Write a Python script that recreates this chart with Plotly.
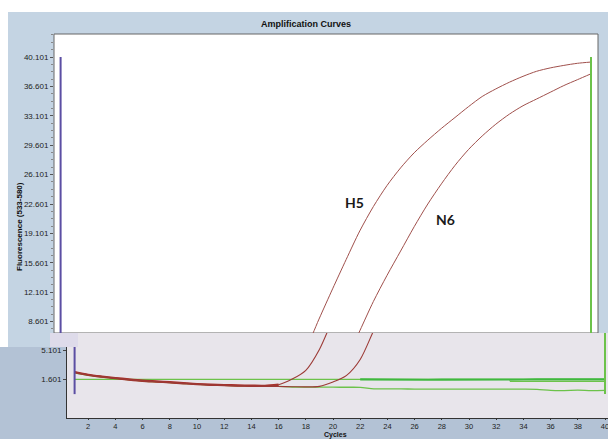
import plotly.graph_objects as go

W, H = 608, 439

# ---------------- data ----------------
cycles = list(range(1, 41))
h5 = [2.48, 2.16, 1.95, 1.77, 1.60, 1.45, 1.36, 1.27, 1.16, 1.05,
      0.98, 0.93, 0.88, 0.85, 0.84, 0.98, 1.65, 2.70, 5.20, 8.90,
      12.5, 16.0, 19.4, 22.3, 24.8, 26.9, 28.7, 30.2, 31.6, 32.9,
      34.2, 35.4, 36.3, 37.1, 37.8, 38.4, 38.8, 39.1, 39.35, 39.5]
n6 = [2.46, 2.15, 1.94, 1.76, 1.59, 1.44, 1.34, 1.25, 1.14, 1.03,
      0.95, 0.89, 0.84, 0.80, 0.78, 0.76, 0.74, 0.72, 0.78, 1.30,
      2.10, 4.00, 7.50, 11.0, 14.1, 17.0, 19.9, 22.6, 25.0, 27.2,
      29.1, 30.7, 32.1, 33.3, 34.3, 35.1, 35.9, 36.7, 37.4, 38.1]
ntc = [2.40, 2.10, 1.90, 1.72, 1.56, 1.42, 1.32, 1.23, 1.12, 1.02,
       0.95, 0.90, 0.85, 0.82, 0.80, 0.78, 0.70, 0.68, 0.68, 0.68,
       0.67, 0.66, 0.48, 0.47, 0.47, 0.46, 0.46, 0.46, 0.45, 0.45,
       0.46, 0.45, 0.44, 0.44, 0.42, 0.30, 0.28, 0.32, 0.27, 0.30]
thr_cycles = [1, 40]
thr_values = [1.62, 1.62]
neg2_cycles = list(range(22, 41))
neg2_values = [1.62, 1.60, 1.62, 1.58, 1.60, 1.57, 1.59, 1.58, 1.58, 1.60,
               1.62, 1.62, 1.60, 1.62, 1.62, 1.62, 1.62, 1.62, 1.62]
neg3_cycles = list(range(33, 41))
neg3_values = [1.37, 1.36, 1.37, 1.37, 1.36, 1.37, 1.37, 1.37]

top_ticks = [8.601, 12.101, 15.601, 19.101, 22.601, 26.101, 29.601, 33.101, 36.601, 40.101]
bottom_ticks = [1.601, 5.101]
x_ticks = list(range(2, 41, 2))
start_cycle, end_cycle = cycles[0], cycles[-1]
marker_top = 40.101
marker_bottom = -0.15
baseline_end = 16
labels = ["H5", "N6"]
label_pos = [(22.6, 22.8), (29.3, 20.8)]

# ---------------- geometry helpers (pixels -> paper) ----------------
def px(x):
    return x / W

def py(y):
    return 1 - y / H

# bottom panel scale
def bx(p):
    return (p - 61) / 13.6

def bv(p):
    return 1.601 - (p - 379.5) / 8.35

# top panel scale
def tx(p):
    return (p - 47) / 13.6

def tv(p):
    return 40.101 - (p - 57) / 8.4

RED = "#a0504c"
RED_B = "#9c3a36"
GREEN = "#6cc24a"
GREEN_B = "#3fb83f"
PURPLE = "#5b4ea3"
TICKFONT = dict(family="Liberation Sans, Arial", size=8, color="#222")
XTICKFONT = dict(family="Liberation Sans, Arial", size=7.5, color="#222")

fig = go.Figure()
SPL = dict(shape="spline", smoothing=0.8)

# ---- top panel traces ----
fig.add_trace(go.Scatter(x=cycles, y=h5, mode="lines", line=dict(color=RED, width=1, **SPL),
                         xaxis="x2", yaxis="y2", name="H5"))
fig.add_trace(go.Scatter(x=cycles, y=n6, mode="lines", line=dict(color=RED, width=1, **SPL),
                         xaxis="x2", yaxis="y2", name="N6"))
fig.add_trace(go.Scatter(x=[start_cycle, start_cycle], y=[marker_top, 0], mode="lines",
                         line=dict(color=PURPLE, width=2), xaxis="x2", yaxis="y2"))
fig.add_trace(go.Scatter(x=[end_cycle, end_cycle], y=[marker_top, 0], mode="lines",
                         line=dict(color=GREEN, width=2), xaxis="x2", yaxis="y2"))

# ---- bottom panel traces ----
fig.add_trace(go.Scatter(x=thr_cycles, y=thr_values, mode="lines",
                         line=dict(color=GREEN, width=1.3), xaxis="x", yaxis="y"))
fig.add_trace(go.Scatter(x=cycles, y=ntc, mode="lines",
                         line=dict(color=GREEN, width=1.3, **SPL), xaxis="x", yaxis="y"))
fig.add_trace(go.Scatter(x=neg2_cycles, y=neg2_values, mode="lines",
                         line=dict(color=GREEN_B, width=2.2), xaxis="x", yaxis="y"))
fig.add_trace(go.Scatter(x=neg3_cycles, y=neg3_values, mode="lines",
                         line=dict(color=GREEN, width=1.2), xaxis="x", yaxis="y"))
fig.add_trace(go.Scatter(x=cycles[:baseline_end], y=h5[:baseline_end], mode="lines",
                         line=dict(color="#a8302a", width=2.4, **SPL), xaxis="x", yaxis="y"))
fig.add_trace(go.Scatter(x=cycles, y=h5, mode="lines", line=dict(color=RED_B, width=1.1, **SPL),
                         xaxis="x", yaxis="y"))
fig.add_trace(go.Scatter(x=cycles, y=n6, mode="lines", line=dict(color=RED_B, width=1.1, **SPL),
                         xaxis="x", yaxis="y"))
fig.add_trace(go.Scatter(x=[start_cycle, start_cycle], y=[marker_bottom, 9], mode="lines",
                         line=dict(color=PURPLE, width=2), xaxis="x", yaxis="y"))
fig.add_trace(go.Scatter(x=[end_cycle, end_cycle], y=[marker_bottom, 9], mode="lines",
                         line=dict(color=GREEN, width=2), xaxis="x", yaxis="y"))

shapes = [
    dict(type="rect", xref="paper", yref="paper", x0=px(8), x1=px(608), y0=py(347), y1=py(12),
         fillcolor="#c4d4e3", line=dict(width=0), layer="below"),
    dict(type="rect", xref="paper", yref="paper", x0=px(0), x1=px(608), y0=py(439), y1=py(347),
         fillcolor="#b3c2d5", line=dict(width=0), layer="below"),
    dict(type="rect", xref="paper", yref="paper", x0=px(54), x1=px(598), y0=py(333), y1=py(34),
         fillcolor="white", line=dict(color="#666666", width=1), layer="below"),
    dict(type="rect", xref="paper", yref="paper", x0=px(58), x1=px(608), y0=py(347), y1=py(333),
         fillcolor="#e8e5eb", line=dict(width=0), layer="below"),
    dict(type="rect", xref="paper", yref="paper", x0=px(67), x1=px(608), y0=py(418), y1=py(333),
         fillcolor="#e8e5eb", line=dict(width=0), layer="below"),
    dict(type="rect", xref="paper", yref="paper", x0=px(50), x1=px(78), y0=py(347), y1=py(333),
         fillcolor="#dedbea", line=dict(width=0), layer="above"),
]

LABFONT = dict(family="Liberation Sans, Arial", size=8, color="#111")
annotations = [
    dict(text="<b>Amplification Curves</b>", x=px(306), y=py(24), xref="paper", yref="paper",
         xanchor="center", yanchor="middle",
         showarrow=False, font=dict(family="Liberation Sans, Arial", size=9, color="#111")),
    dict(text="<b>Fluorescence (533-580)</b>", x=px(19), y=py(227), xref="paper", yref="paper",
         xanchor="center", yanchor="middle",
         showarrow=False, textangle=-90, font=LABFONT),
    dict(text="<b>Cycles</b>", x=px(335), y=py(439.5), xref="paper", yref="paper",
         xanchor="center", yanchor="bottom", borderpad=0,
         showarrow=False, font=dict(family="Liberation Sans, Arial", size=7, color="#111")),
]
for lab, (cx, cy) in zip(labels, label_pos):
    annotations.append(dict(text="<b>" + lab + "</b>", x=cx, y=cy, xref="x2", yref="y2",
                            xanchor="center", yanchor="middle", showarrow=False,
                            font=dict(family="Lato, Open Sans, sans-serif", size=14, color="#1a1a1a")))

fig.update_layout(
    width=W, height=H, margin=dict(l=0, r=0, t=0, b=0),
    paper_bgcolor="white", plot_bgcolor="rgba(0,0,0,0)",
    showlegend=False,
    shapes=shapes, annotations=annotations,
    xaxis=dict(domain=[px(67), 1], range=[bx(67), bx(608)], anchor="y",
               tickmode="array", tickvals=x_ticks, ticktext=[str(v) for v in x_ticks],
               ticks="outside", ticklen=1, tickcolor="#333", tickfont=XTICKFONT,
               ticklabelstandoff=0, ticklabeloverflow="allow",
               showline=True, linecolor="#333", linewidth=1,
               showgrid=False, zeroline=False),
    yaxis=dict(domain=[py(418), py(333)], range=[bv(418), bv(333)], anchor="x",
               tickmode="array", tickvals=bottom_ticks, ticktext=["%.3f" % v for v in bottom_ticks],
               ticks="outside", ticklen=3, tickcolor="#444", tickfont=TICKFONT,
               showline=True, linecolor="#333", linewidth=1,
               showgrid=False, zeroline=False),
    xaxis2=dict(domain=[px(54), px(598)], range=[tx(54), tx(598)], anchor="y2",
                visible=False),
    yaxis2=dict(domain=[py(333), py(34)], range=[tv(333), tv(34)], anchor="x2",
                tickmode="array", tickvals=top_ticks, ticktext=["%.3f" % v for v in top_ticks],
                ticks="outside", ticklen=3, tickcolor="#555", tickfont=TICKFONT,
                minor=dict(ticks="outside", ticklen=2, tickcolor="#888", dtick=0.875, tick0=8.601),
                showline=False, showgrid=False, zeroline=False),
)

fig.write_html("out.html", config={"displayModeBar": False},
               post_script="document.body.style.margin='0';")
